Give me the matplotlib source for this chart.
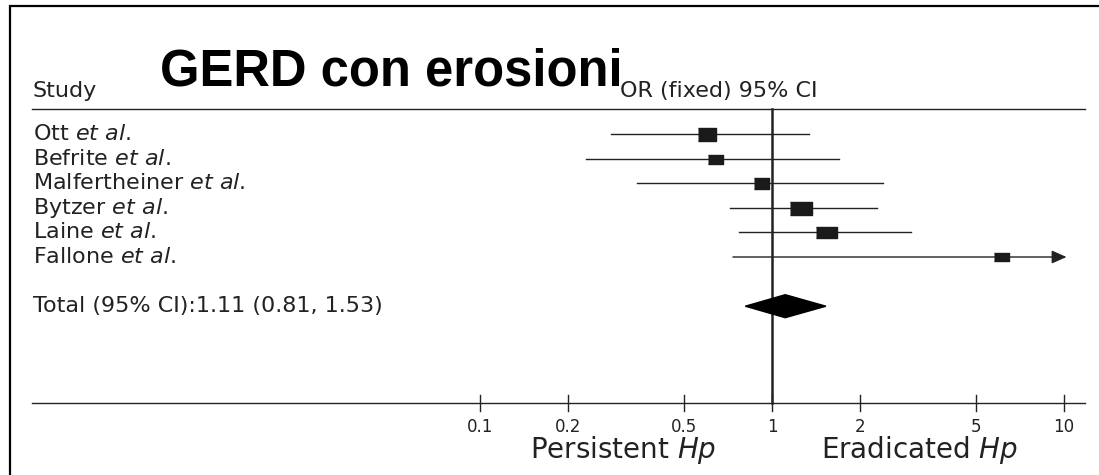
import numpy as np
import matplotlib
matplotlib.use("Agg")
from matplotlib import pyplot as plt
from matplotlib import transforms

plt.rcParams["font.family"] = "DejaVu Sans"
plt.rcParams["mathtext.fontset"] = "dejavusans"

# ---- data ----
studies = ["Ott", "Befrite", "Malfertheiner", "Bytzer", "Laine", "Fallone"]
odds_ratio = [0.60, 0.64, 0.92, 1.26, 1.53, 6.10]
ci_low = [0.28, 0.23, 0.345, 0.72, 0.77, 0.735]
ci_high = [1.34, 1.70, 2.40, 2.29, 3.00, 50.0]   # Fallone runs off the scale
total_or, total_low, total_high = 1.11, 0.81, 1.53
tick_values = [0.1, 0.2, 0.5, 1, 2, 5, 10]
tick_labels = ["0.1", "0.2", "0.5", "1", "2", "5", "10"]

# box sizes (px) as drawn in the original
box_w = [18, 15, 15, 22, 21, 15]
box_h = [13, 9, 11, 13, 11, 8]

INK = "#222222"
W, H = 1099, 475
PX_DECADE = 292          # pixels per decade on the OR scale
X_ONE = 772              # pixel of OR = 1
ROW0, ROW_STEP = 134, 24.6
x_arrow = 10.2           # where the arrow of an open interval stops
LABEL_FS = 16

fig = plt.figure(figsize=(W / 100, H / 100), dpi=100)
ax = fig.add_axes([0, 0, 1, 1])
ax.axis("off")
ax.set_xscale("log")
ax.set_xlim(10 ** (-X_ONE / PX_DECADE), 10 ** ((W - X_ONE) / PX_DECADE))
ax.set_ylim(H, 0)

left = transforms.blended_transform_factory(ax.transAxes, ax.transData)
px = lambda v: v / W

# frame (only left + top edges show in the original)
ax.plot([px(10), px(10), 1.01], [H + 5, 6, 6], transform=left, color="black", lw=1.6,
        clip_on=False, solid_joinstyle="miter")

# ---- header ----
ax.text(px(160), 86, "GERD con erosioni", transform=left, family="Liberation Sans",
        fontsize=36.5, fontweight="bold", color="black", va="baseline")
ax.text(px(33), 97, "Study", transform=left, fontsize=LABEL_FS, color=INK, va="baseline")
ax.text(px(620), 97, "OR (fixed) 95% CI", transform=left, fontsize=LABEL_FS, color=INK,
        va="baseline")
ax.plot([px(32), px(1085)], [109, 109], transform=left, color=INK, lw=1.0)

# ---- studies ----
rows = [ROW0 + ROW_STEP * i for i in range(len(studies))]
total_y = ROW0 + ROW_STEP * 7
axis_y = 403

ax.plot([1, 1], [109, axis_y], color=INK, lw=1.8, zorder=3)

for name, est, lo, hi, bw, bh, y in zip(studies, odds_ratio, ci_low, ci_high,
                                        box_w, box_h, rows):
    ax.text(px(33), y, name + r" $\mathit{et\ al.}$", transform=left, fontsize=LABEL_FS,
            color=INK, va="center")
    if hi > x_arrow:
        ax.annotate("", xy=(x_arrow, y), xytext=(lo, y),
                    arrowprops=dict(arrowstyle="-|>,head_length=0.9,head_width=0.4",
                                    color=INK, lw=1.0, shrinkA=0, shrinkB=0))
    else:
        ax.plot([lo, hi], [y, y], color=INK, lw=1.0)
    marker = [(-bw, -bh), (bw, -bh), (bw, bh), (-bw, bh)]
    ax.plot(est, y, marker=marker, markersize=bw * 0.72, color="#1a1a1a",
            linestyle="none", zorder=4)

# ---- pooled estimate ----
total_text = "Total (95% CI):{:.2f} ({:.2f}, {:.2f})".format(total_or, total_low, total_high)
ax.text(px(33), total_y, total_text, transform=left, fontsize=LABEL_FS, color=INK,
        va="center")
half = 11.5
ax.fill([total_low, total_or, total_high, total_or],
        [total_y, total_y - half, total_y, total_y + half], color="black", zorder=4)

# ---- OR axis ----
ax.plot([px(32), px(1085)], [axis_y, axis_y], transform=left, color=INK, lw=1.0)
for v, lab in zip(tick_values, tick_labels):
    ax.plot([v, v], [axis_y - 8, axis_y + 8], color=INK, lw=1.0)
    ax.text(v, 427, lab, fontsize=12, color=INK, ha="center", va="center")

ax.text(px(623), 458, r"Persistent $\mathit{Hp}$", transform=left, fontsize=20,
        color=INK, ha="center", va="baseline")
ax.text(px(920), 458, r"Eradicated $\mathit{Hp}$", transform=left, fontsize=20,
        color=INK, ha="center", va="baseline")

fig.savefig("out.png", dpi=100, facecolor="white")
